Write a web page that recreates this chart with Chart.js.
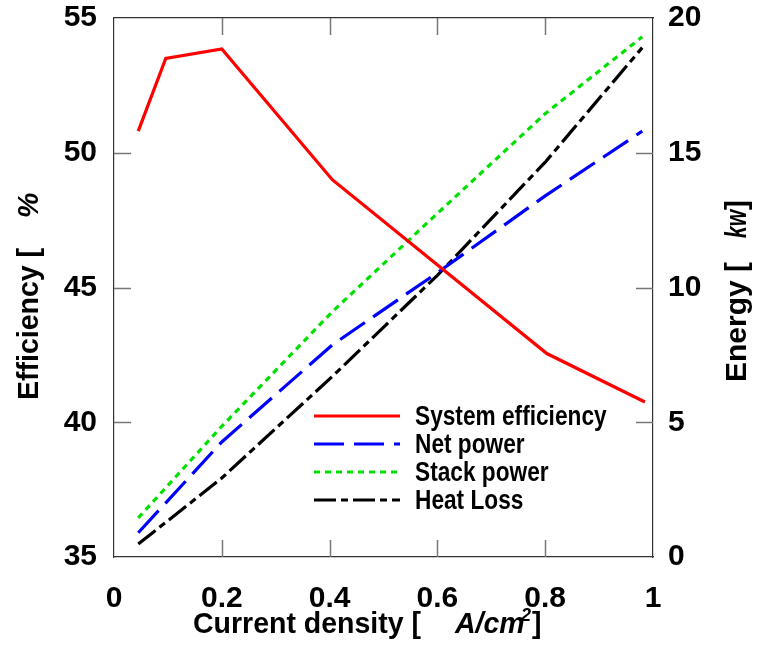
<!DOCTYPE html>
<html>
<head>
<meta charset="utf-8">
<script src="https://cdn.jsdelivr.net/npm/chart.js@4.4.1/dist/chart.umd.min.js"></script>
<style>
html,body{margin:0;padding:0;background:#fff;}
#wrap{width:759px;height:647px;position:relative;}
</style>
</head>
<body>
<div id="wrap"><canvas id="c" width="759" height="647"></canvas></div>
<script>
// ---- data ----
const effX = [0.045, 0.096, 0.2, 0.405, 0.803, 0.985];
const systemEfficiency = [50.8, 53.5, 53.85, 49.0, 42.55, 40.75];

const energyX = [0.045, 0.2, 0.405, 0.6, 0.8, 0.98];
const netPower   = [0.9, 4.27, 7.87, 10.55, 13.4, 15.8];
const stackPower = [1.45, 4.85, 9.1, 12.75, 16.45, 19.3];
const heatLoss   = [0.48, 2.93, 6.7, 10.45, 14.65, 18.9];

const xTicks = [0, 0.2, 0.4, 0.6, 0.8, 1];
const effTicks = [35, 40, 45, 50, 55];
const energyTicks = [0, 5, 10, 15, 20];

const seriesLabels = ['System efficiency', 'Net power', 'Stack power', 'Heat Loss'];

const pts = (xs, ys) => xs.map((x, i) => ({x: x, y: ys[i]}));
const FONT = '"Liberation Sans", Arial, sans-serif';

const innerTicks = {
  id: 'innerTicks',
  afterDraw(chart) {
    const ctx = chart.ctx, a = chart.chartArea, s = chart.scales;
    ctx.save();
    ctx.strokeStyle = '#777';
    ctx.lineWidth = 1.5;
    const L = 17;
    xTicks.slice(1, -1).forEach(v => {
      const px = Math.round(s.x.getPixelForValue(v)) + 0.5;
      ctx.beginPath(); ctx.moveTo(px, a.bottom); ctx.lineTo(px, a.bottom - L); ctx.stroke();
      ctx.beginPath(); ctx.moveTo(px, a.top); ctx.lineTo(px, a.top + L); ctx.stroke();
    });
    effTicks.slice(1, -1).forEach(v => {
      const py = Math.round(s.y.getPixelForValue(v)) + 0.5;
      ctx.beginPath(); ctx.moveTo(a.left, py); ctx.lineTo(a.left + L, py); ctx.stroke();
    });
    energyTicks.slice(1, -1).forEach(v => {
      const py = Math.round(s.y2.getPixelForValue(v)) + 0.5;
      ctx.beginPath(); ctx.moveTo(a.right, py); ctx.lineTo(a.right - L, py); ctx.stroke();
    });
    ctx.restore();
  }
};

function drawParts(ctx, parts, sx) {
  let x = 0;
  parts.forEach(p => {
    ctx.font = p.font;
    if (p.at !== undefined) x = p.at;
    const k = sx * (p.sx || 1);
    ctx.save();
    ctx.scale(k, 1);
    ctx.fillText(p.t, x / k, p.dy || 0);
    ctx.restore();
    x += ctx.measureText(p.t).width * k;
  });
}

const titles = {
  id: 'titles',
  afterDraw(chart) {
    const ctx = chart.ctx;
    ctx.save();
    ctx.fillStyle = '#000';
    ctx.textBaseline = 'alphabetic';
    const B = 'bold 30px ' + FONT, I = 'italic bold 30px ' + FONT;
    // bottom title
    ctx.save();
    ctx.translate(193, 633);
    drawParts(ctx, [
      {t: 'Current density [', font: B},
      {t: 'A/cm', font: I, at: 262},
      {t: '2', font: 'italic bold 19px ' + FONT, at: 328, dy: -12},
      {t: ']', font: B, at: 339}
    ], 0.95);
    ctx.restore();
    // left title
    ctx.save();
    ctx.translate(38, 400);
    ctx.rotate(-Math.PI / 2);
    drawParts(ctx, [
      {t: 'Efficiency [', font: B},
      {t: '%', font: I, at: 182}
    ], 0.95);
    ctx.restore();
    // right title
    ctx.save();
    ctx.translate(746, 382);
    ctx.rotate(-Math.PI / 2);
    drawParts(ctx, [
      {t: 'Energy [', font: B},
      {t: 'kw', font: I, at: 144, sx: 0.7},
      {t: ']', font: B, at: 172}
    ], 1.0);
    ctx.restore();
    ctx.restore();
  }
};

const legendPlugin = {
  id: 'customLegend',
  afterDraw(chart) {
    const ctx = chart.ctx;
    const rows = [416, 444, 472, 500];
    ctx.save();
    chart.data.datasets.forEach((ds, i) => {
      const y = rows[i];
      ctx.strokeStyle = ds.borderColor;
      ctx.lineWidth = ds.borderWidth;
      ctx.setLineDash(ds.borderDash || []);
      ctx.beginPath(); ctx.moveTo(314, y); ctx.lineTo(400, y); ctx.stroke();
      ctx.setLineDash([]);
      ctx.fillStyle = '#000';
      ctx.font = 'bold 28px ' + FONT;
      ctx.textBaseline = 'alphabetic';
      ctx.save();
      ctx.scale(0.81, 1);
      ctx.fillText(ds.label, 415 / 0.81, y + 9);
      ctx.restore();
    });
    ctx.restore();
  }
};

const tickFont = {family: FONT, size: 30, weight: 'bold'};
const noPad = s => { s.paddingTop = 0; s.paddingBottom = 0; s.paddingLeft = 0; s.paddingRight = 0; };

new Chart(document.getElementById('c'), {
  type: 'line',
  data: {
    datasets: [
      {label: seriesLabels[0], data: pts(effX, systemEfficiency), yAxisID: 'y',
       borderColor: '#ff0000', borderWidth: 3.2, pointRadius: 0, tension: 0},
      {label: seriesLabels[1], data: pts(energyX, netPower), yAxisID: 'y2',
       borderColor: '#0000ff', borderWidth: 3.2, borderDash: [30, 10], pointRadius: 0, tension: 0},
      {label: seriesLabels[2], data: pts(energyX, stackPower), yAxisID: 'y2',
       borderColor: '#00e000', borderWidth: 3.2, borderDash: [6, 5], pointRadius: 0, tension: 0},
      {label: seriesLabels[3], data: pts(energyX, heatLoss), yAxisID: 'y2',
       borderColor: '#000000', borderWidth: 3.2, borderDash: [22, 5, 7, 5], pointRadius: 0, tension: 0}
    ]
  },
  options: {
    responsive: false,
    animation: false,
    devicePixelRatio: 1,
    layout: {padding: {top: 18, left: 0, right: 0, bottom: 0}},
    plugins: {legend: {display: false}, tooltip: {enabled: false}},
    scales: {
      x: {
        type: 'linear', position: 'bottom', min: 0, max: 1,
        afterBuildTicks: s => { s.ticks = xTicks.map(v => ({value: v})); },
        afterFit: s => { s.height = 90; noPad(s); },
        ticks: {font: tickFont, color: '#000', padding: 24, maxRotation: 0,
                callback: v => String(Math.round(v * 10) / 10)},
        grid: {drawOnChartArea: false, drawTicks: false},
        border: {display: true, color: '#333', width: 1.2}
      },
      xTop: {
        type: 'linear', position: 'top', min: 0, max: 1,
        afterFit: s => { s.height = 0; noPad(s); },
        ticks: {display: false},
        grid: {drawOnChartArea: false, drawTicks: false},
        border: {display: true, color: '#333', width: 1.2}
      },
      y: {
        type: 'linear', position: 'left', min: 35, max: 55,
        afterBuildTicks: s => { s.ticks = effTicks.map(v => ({value: v})); },
        afterFit: s => { s.width = 114; noPad(s); },
        ticks: {font: tickFont, color: '#000', padding: 17},
        grid: {drawOnChartArea: false, drawTicks: false},
        border: {display: true, color: '#333', width: 1.2}
      },
      y2: {
        type: 'linear', position: 'right', min: 0, max: 20,
        afterBuildTicks: s => { s.ticks = energyTicks.map(v => ({value: v})); },
        afterFit: s => { s.width = 106; noPad(s); },
        ticks: {font: tickFont, color: '#000', padding: 15},
        grid: {drawOnChartArea: false, drawTicks: false},
        border: {display: true, color: '#333', width: 1.2}
      }
    }
  },
  plugins: [innerTicks, titles, legendPlugin]
});
</script>
</body>
</html>
